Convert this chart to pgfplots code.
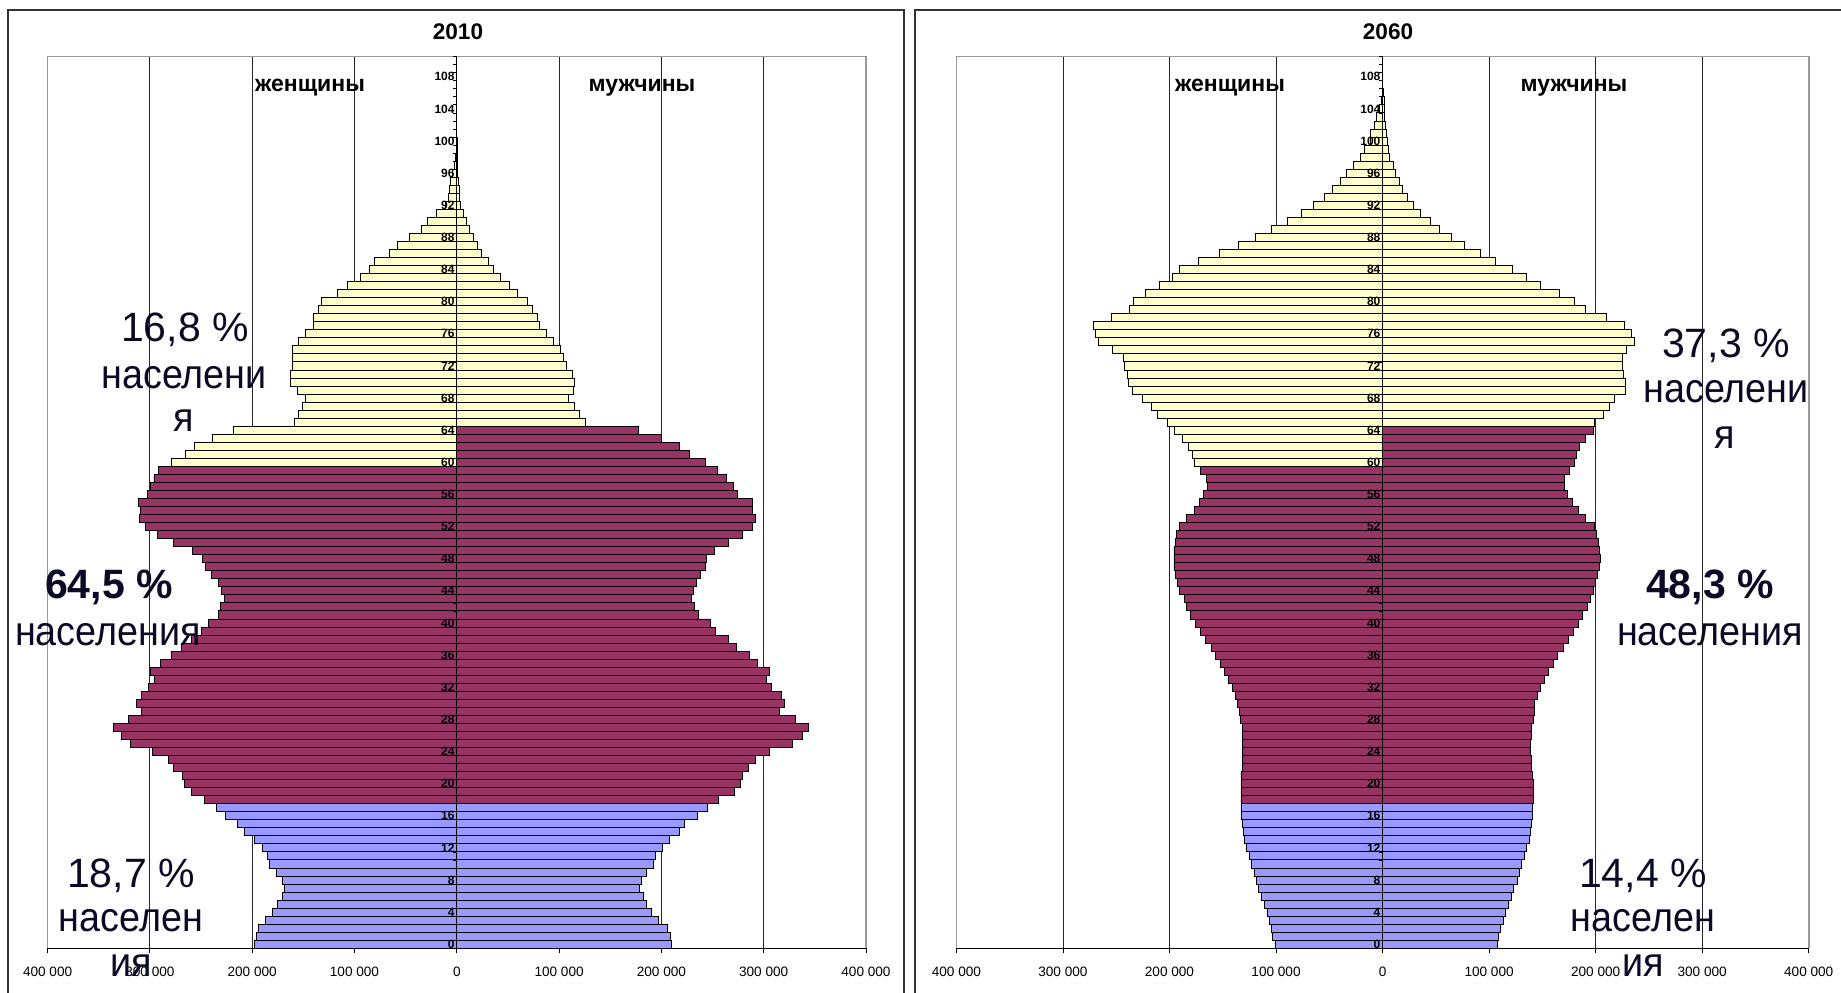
\documentclass[border=0pt]{standalone}
\usepackage{graphicx}
\usepackage{fontspec}
\setmainfont{Liberation Sans}
\usepackage{pgfplots}
\pgfplotsset{compat=1.18}
\usepackage{pgfplotstable}

\definecolor{cblue}{HTML}{9999FF}
\definecolor{cmar}{HTML}{993366}
\definecolor{cyel}{HTML}{FFFFCC}
\definecolor{ctxt}{HTML}{0A0A26}
\definecolor{cframe}{HTML}{333333}

% age, women (negative), men
\pgfplotstableread{
age f m
0 -197800 210300
1 -196000 208500
2 -194200 206300
3 -187400 197300
4 -180300 190600
5 -174900 185200
6 -170400 182100
7 -168200 178900
8 -170900 180700
9 -176700 185200
10 -183000 191900
11 -185200 194600
12 -189700 200900
13 -197800 207600
14 -207600 217900
15 -214300 222900
16 -226500 235000
17 -235000 245300
18 -246200 255600
19 -259600 271300
20 -266400 277600
21 -268600 279400
22 -276700 285200
23 -282100 292400
24 -297800 305800
25 -319300 327800
26 -327800 338100
27 -335900 343500
28 -321100 331400
29 -308100 315700
30 -313500 320200
31 -308100 317000
32 -301800 307600
33 -296000 303100
34 -299100 305400
35 -289700 294200
36 -279400 285700
37 -269100 273500
38 -259000 265500
39 -250000 252900
40 -243000 247500
41 -233200 236300
42 -231400 232700
43 -227400 229600
44 -229600 230900
45 -233200 234500
46 -239900 238600
47 -245300 243000
48 -248900 243900
49 -258700 252000
50 -276700 265900
51 -292400 279400
52 -304500 288800
53 -310300 292400
54 -309400 288800
55 -311200 288800
56 -302700 274400
57 -299100 270400
58 -296000 263200
59 -291500 254700
60 -279400 243500
61 -265500 227800
62 -256500 217900
63 -239000 200000
64 -218800 177600
65 -158300 126000
66 -155200 120200
67 -150700 114800
68 -147500 109400
69 -156100 113900
70 -162800 114800
71 -162800 112600
72 -160500 107200
73 -160500 104500
74 -160500 101300
75 -154300 94600
76 -147500 87400
77 -139900 81200
78 -140400 78500
79 -135400 74400
80 -132700 69100
81 -117000 59200
82 -107200 51100
83 -93700 42200
84 -85700 35900
85 -80300 31400
86 -65900 24200
87 -57800 20600
88 -46600 16100
89 -34500 12100
90 -28300 9400
91 -20200 6700
92 -11000 3500
93 -8500 2500
94 -7200 2200
95 -5800 1300
96 -4500 900
97 -2700 700
98 -1500 500
99 -800 300
100 -500 200
101 -200 100
102 0 0
103 0 0
104 0 0
105 0 0
106 0 0
107 0 0
108 0 0
109 0 0
110 0 0
}\dataA

\pgfplotstableread{
age f m
0 -100500 107800
1 -103000 108900
2 -104000 110600
3 -106400 113000
4 -108500 115500
5 -111000 118600
6 -114100 121000
7 -116200 123100
8 -118600 126600
9 -120700 128700
10 -123100 130800
11 -125200 133200
12 -127700 135300
13 -129400 137400
14 -130800 138400
15 -131800 139800
16 -132900 140900
17 -132900 140900
18 -132900 141200
19 -132900 141200
20 -132900 141200
21 -132900 140500
22 -131500 139800
23 -131500 139800
24 -131500 138800
25 -131500 139100
26 -131500 139800
27 -131800 140200
28 -133200 141200
29 -134300 142300
30 -136300 143000
31 -138400 145400
32 -140900 148500
33 -144300 152000
34 -148500 155500
35 -152300 160000
36 -156500 164200
37 -161000 169700
38 -166300 174600
39 -171100 178800
40 -175700 183700
41 -180200 187800
42 -183700 192300
43 -186100 195500
44 -190300 198300
45 -192300 200000
46 -194800 202100
47 -195800 203800
48 -195800 204200
49 -195800 203800
50 -194800 202400
51 -193700 200300
52 -190300 198600
53 -183700 190600
54 -176700 184000
55 -172200 178400
56 -167700 173900
57 -164500 170400
58 -165600 171100
59 -171100 175000
60 -176700 180500
61 -178100 181600
62 -182300 184700
63 -188200 190300
64 -195800 197600
65 -201700 199300
66 -211500 207000
67 -217400 212900
68 -225000 218100
69 -234800 228200
70 -238300 228200
71 -239000 226100
72 -242100 225000
73 -242800 225400
74 -253200 229200
75 -266400 236200
76 -269900 233700
77 -271000 227100
78 -254300 210400
79 -237600 190600
80 -234100 180500
81 -223000 166300
82 -209400 147800
83 -197200 134600
84 -190300 122100
85 -172500 106400
86 -153000 91800
87 -135700 77200
88 -119700 65000
89 -104000 53600
90 -89700 44900
91 -76500 35500
92 -65000 29200
93 -55000 23700
94 -47300 19100
95 -39700 15700
96 -33700 12200
97 -27100 10400
98 -21200 6300
99 -17000 5600
100 -11800 4900
101 -11100 3800
102 -7700 2800
103 -5600 1700
104 -2800 2100
105 -1400 1700
106 -500 500
107 -300 200
108 0 0
109 0 0
110 0 0
}\dataB

\pgfplotsset{
  pbar/.style={xbar, bar width=1, bar shift=0pt, draw=black, line width=0.45pt},
  pyr/.style={
    anchor=south west, scale only axis,
    height=445.8pt,
    xmin=-400000, xmax=400000, ymin=-0.5, ymax=110.5,
    xtick={-400000,-300000,-200000,-100000,0,100000,200000,300000,400000},
    xticklabels={400 000,300 000,200 000,100 000,0,100 000,200 000,300 000,400 000},
    /pgf/number format/assume math mode=true,
    xticklabel style={font=\fontsize{6.8}{8}\selectfont, text=black, yshift=-3.2pt},
    xtick pos=bottom, tick align=outside, major tick length=2.5pt,
    tick style={black, line width=0.45pt},
    ytick=\empty,
    xmajorgrids, major grid style={black!85, line width=0.45pt},
    axis line style={draw=none},
    clip=false,
  },
}

\newcommand{\pyraxisdeco}{%
  \draw[black!40, line width=0.8pt] (rel axis cs:0,0) -- (rel axis cs:0,1) -- (rel axis cs:1,1) -- (rel axis cs:1,0);
  \draw[black, line width=0.6pt] (rel axis cs:0,0) -- (rel axis cs:1,0);
  \draw[black, line width=0.6pt] (axis cs:0,-0.5) -- (axis cs:0,110.5);
  \pgfplotsinvokeforeach{-0.5,0.5,...,110.5}{\draw[black, line width=0.4pt] (axis cs:0,##1) -- ([xshift=-2pt]axis cs:0,##1);}
  \pgfplotsinvokeforeach{0,4,...,108}{\node[anchor=east, inner sep=0pt, xshift=-0.9pt, font=\bfseries\fontsize{6}{7}\selectfont] at (axis cs:0,##1) {##1};}
}
\newcommand{\cw}[1]{\scalebox{0.92}[1]{#1}}

\begin{document}
\begin{tikzpicture}
\useasboundingbox (0,0) rectangle (920.5pt,496pt);

% panel frames
\draw[cframe, line width=0.8pt] (4.1pt,-2pt) -- (4.1pt,491pt) -- (451.85pt,491pt) -- (451.85pt,-2pt);
\draw[cframe, line width=0.8pt] (457.5pt,-2pt) -- (457.5pt,491pt) -- (925pt,491pt);

% ---------- 2010 ----------
\begin{axis}[pyr, at={(23.8pt,21.85pt)}, width=409.2pt]
\addplot[pbar, fill=cblue, restrict y to domain=0:17] table[x=f, y=age] {\dataA};
\addplot[pbar, fill=cmar,  restrict y to domain=18:59] table[x=f, y=age] {\dataA};
\addplot[pbar, fill=cyel,  restrict y to domain=60:110] table[x=f, y=age] {\dataA};
\addplot[pbar, fill=cblue, restrict y to domain=0:17] table[x=m, y=age] {\dataA};
\addplot[pbar, fill=cmar,  restrict y to domain=18:64] table[x=m, y=age] {\dataA};
\addplot[pbar, fill=cyel,  restrict y to domain=65:110] table[x=m, y=age] {\dataA};
\pyraxisdeco
\end{axis}

% ---------- 2060 ----------
\begin{axis}[pyr, at={(478.2pt,21.85pt)}, width=426.15pt]
\addplot[pbar, fill=cblue, restrict y to domain=0:17] table[x=f, y=age] {\dataB};
\addplot[pbar, fill=cmar,  restrict y to domain=18:59] table[x=f, y=age] {\dataB};
\addplot[pbar, fill=cyel,  restrict y to domain=60:110] table[x=f, y=age] {\dataB};
\addplot[pbar, fill=cblue, restrict y to domain=0:17] table[x=m, y=age] {\dataB};
\addplot[pbar, fill=cmar,  restrict y to domain=18:64] table[x=m, y=age] {\dataB};
\addplot[pbar, fill=cyel,  restrict y to domain=65:110] table[x=m, y=age] {\dataB};
\pyraxisdeco
\end{axis}

% titles and side labels
\begin{scope}[every node/.style={anchor=base, inner sep=0pt}]
\node[font=\bfseries\fontsize{11.3}{13}\selectfont] at (229pt,476pt) {2010};
\node[font=\bfseries\fontsize{11.3}{13}\selectfont] at (694pt,476pt) {2060};
\node[font=\bfseries\fontsize{11.5}{13}\selectfont] at (155pt,450.15pt) {женщины};
\node[font=\bfseries\fontsize{11.5}{13}\selectfont] at (321pt,450.15pt) {мужчины};
\node[font=\bfseries\fontsize{11.5}{13}\selectfont] at (615pt,450.15pt) {женщины};
\node[font=\bfseries\fontsize{11.5}{13}\selectfont] at (787pt,450.15pt) {мужчины};

% annotations 2010
\begin{scope}[every node/.append style={text=ctxt, font=\fontsize{20.5}{24}\selectfont}]
\node at (92.5pt,325.15pt) {16,8 \%};
\node at (92pt,301.85pt) {\cw{населени}};
\node at (92pt,280.15pt) {\cw{я}};
\node[font=\bfseries\fontsize{20.5}{24}\selectfont] at (54.5pt,197pt) {64,5 \%};
\node at (54pt,173.5pt) {\cw{населения}};
\node at (65.5pt,52.5pt) {18,7 \%};
\node at (65.5pt,30.15pt) {\cw{населен}};
\node at (65.5pt,7.65pt) {\cw{ия}};
% annotations 2060
\node at (863pt,317pt) {37,3 \%};
\node at (863pt,294.5pt) {\cw{населени}};
\node at (862.5pt,272pt) {\cw{я}};
\node[font=\bfseries\fontsize{20.5}{24}\selectfont] at (855pt,197pt) {48,3 \%};
\node at (855pt,173.5pt) {\cw{населения}};
\node at (821.5pt,52.5pt) {14,4 \%};
\node at (821.5pt,30.15pt) {\cw{населен}};
\node at (821.5pt,7.65pt) {\cw{ия}};
\end{scope}
\end{scope}
\end{tikzpicture}
\end{document}
